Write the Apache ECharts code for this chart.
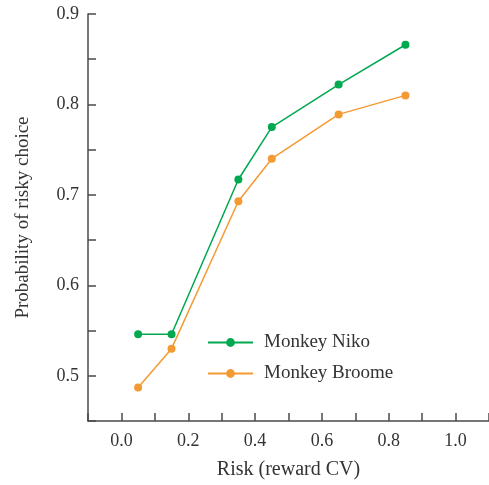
<!DOCTYPE html>
<html>
<head>
<meta charset="utf-8">
<script src="https://cdn.jsdelivr.net/npm/echarts@6/dist/echarts.min.js"></script>
<style>
  html, body { margin: 0; padding: 0; background: #fff; }
  #chart { width: 489px; height: 485px; }
</style>
</head>
<body>
<div id="chart"></div>
<script>
// Risk levels (coefficient of variation of reward)
const riskCV = [0.05, 0.15, 0.35, 0.45, 0.65, 0.85];
// Probability of choosing the risky option, per monkey
const nikoProb = [0.546, 0.546, 0.717, 0.775, 0.822, 0.866];
const broomeProb = [0.487, 0.530, 0.693, 0.740, 0.789, 0.810];
const seriesNames = ['Monkey Niko', 'Monkey Broome'];

const font = '"Liberation Serif", "DejaVu Serif", serif';
const axisColor = '#4a4a4a';
const textColor = '#333';

const pairs = (xs, ys) => xs.map((x, i) => [x, ys[i]]);

const chart = echarts.init(document.getElementById('chart'), null, { renderer: 'canvas' });
chart.setOption({
  animation: false,
  backgroundColor: '#fff',
  grid: { left: 88, right: 0, top: 14, bottom: 64, containLabel: false, outerBoundsMode: 'none' },
  legend: {
    orient: 'vertical',
    left: 207,
    top: 333,
    padding: 0,
    itemWidth: 45,
    itemHeight: 11,
    itemGap: 12,
    textStyle: { fontFamily: font, fontSize: 19, color: textColor, padding: [0, 0, 0, 6] },
    data: seriesNames
  },
  xAxis: {
    type: 'value',
    min: -0.1,
    max: 1.1,
    interval: 0.1,
    name: 'Risk (reward CV)',
    nameLocation: 'middle',
    nameGap: 39,
    nameTextStyle: { fontFamily: font, fontSize: 20, color: textColor },
    axisLine: { show: true, onZero: false, lineStyle: { color: axisColor, width: 1.5 } },
    axisTick: { show: true, inside: true, length: 8, lineStyle: { color: axisColor, width: 1.5 } },
    splitLine: { show: false },
    axisLabel: {
      fontFamily: font, fontSize: 18, color: textColor, margin: 11,
      showMinLabel: true, showMaxLabel: true,
      formatter: v => {
        const k = Math.round(v * 10);
        return (k >= 0 && k <= 10 && k % 2 === 0) ? (k / 10).toFixed(1) : '';
      }
    }
  },
  yAxis: {
    type: 'value',
    min: 0.45,
    max: 0.9,
    interval: 0.05,
    name: 'Probability of risky choice',
    nameLocation: 'middle',
    nameGap: 55,
    nameTextStyle: { fontFamily: font, fontSize: 19, color: textColor },
    axisLine: { show: true, onZero: false, lineStyle: { color: axisColor, width: 1.5 } },
    axisTick: { show: true, inside: true, length: 8, lineStyle: { color: axisColor, width: 1.5 } },
    splitLine: { show: false },
    axisLabel: {
      fontFamily: font, fontSize: 18, color: textColor, margin: 9,
      formatter: v => {
        const k = Math.round(v * 100);
        return (k % 10 === 0) ? (k / 100).toFixed(1) : '';
      }
    }
  },
  series: [
    {
      name: seriesNames[0],
      type: 'line',
      data: pairs(riskCV, nikoProb),
      symbol: 'circle',
      symbolSize: 8,
      color: '#00a84f',
      lineStyle: { width: 1.5, color: '#00a84f' },
      itemStyle: { color: '#00a84f' }
    },
    {
      name: seriesNames[1],
      type: 'line',
      data: pairs(riskCV, broomeProb),
      symbol: 'circle',
      symbolSize: 8,
      color: '#f49a33',
      lineStyle: { width: 1.5, color: '#f49a33' },
      itemStyle: { color: '#f49a33' }
    }
  ]
});
</script>
</body>
</html>
